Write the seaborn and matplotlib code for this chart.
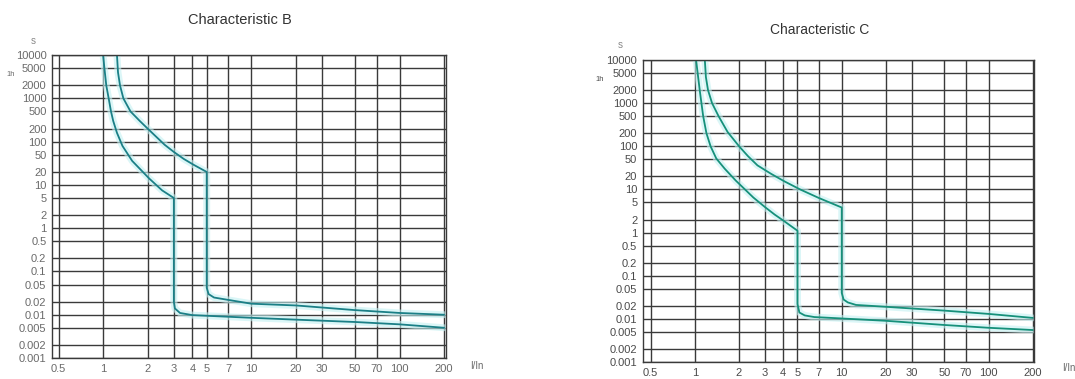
import matplotlib
matplotlib.use("Agg")
import matplotlib.pyplot as plt
import seaborn as sns

sns.set_style("white")
plt.rcParams['font.family'] = ['Liberation Sans', 'DejaVu Sans']

# grid / tick values (multiples of rated current, seconds)
x_ticks = [0.5, 1, 2, 3, 4, 5, 7, 10, 20, 30, 50, 70, 100, 200]
x_labels = ['0.5', '1', '2', '3', '4', '5', '7', '10', '20', '30', '50', '70', '100', '200']
y_ticks = [10000, 5000, 2000, 1000, 500, 200, 100, 50, 20, 10, 5, 2, 1,
           0.5, 0.2, 0.1, 0.05, 0.02, 0.01, 0.005, 0.002, 0.001]
y_labels = ['10000', '5000', '2000', '1000', '500', '200', '100', '50', '20', '10', '5', '2', '1',
            '0.5', '0.2', '0.1', '0.05', '0.02', '0.01', '0.005', '0.002', '0.001']

# Characteristic B
b_low_x = [1.0, 1.02, 1.05, 1.09, 1.13, 1.17, 1.24, 1.35, 1.57, 2.05, 2.5, 3.0,
           3.0, 3.05, 3.3, 4.0, 10, 20, 50, 100, 200]
b_low_y = [10000, 5000, 2000, 1000, 500, 300, 160, 80, 36, 14, 7.5, 5,
           0.02, 0.014, 0.011, 0.0098, 0.0085, 0.0077, 0.0068, 0.006, 0.005]
b_up_x = [1.24, 1.26, 1.3, 1.37, 1.53, 1.77, 2.0, 2.24, 2.6, 3.0, 3.5, 4.1, 5.0,
          5.0, 5.15, 5.6, 7, 10, 20, 50, 100, 200]
b_up_y = [10000, 4000, 2000, 1000, 500, 300, 200, 138, 85, 58, 40, 29, 20,
          0.042, 0.03, 0.025, 0.022, 0.018, 0.0164, 0.0128, 0.011, 0.01]

# Characteristic C
c_low_x = [1.02, 1.08, 1.14, 1.2, 1.28, 1.4, 1.6, 1.9, 2.5, 3.0, 3.5, 4.0, 5.0,
           5.0, 5.15, 5.6, 6.5, 10, 20, 50, 100, 200]
c_low_y = [10000, 2000, 500, 200, 100, 52, 30, 16, 6.5, 3.9, 2.6, 1.9, 1.1,
           0.022, 0.014, 0.012, 0.011, 0.0102, 0.009, 0.0072, 0.0062, 0.0055]
c_up_x = [1.17, 1.19, 1.23, 1.31, 1.45, 1.67, 2.0, 2.3, 2.67, 3.3, 4.05, 5.2, 7, 10,
          10, 10.3, 11, 12.5, 20, 50, 100, 200]
c_up_y = [10000, 4000, 2000, 1000, 500, 215, 100, 59, 36, 23, 15.5, 10, 6.3, 3.8,
          0.04, 0.028, 0.024, 0.021, 0.019, 0.0155, 0.013, 0.0105]

fig = plt.figure(figsize=(10.75, 3.79), dpi=100)
ax_b = fig.add_axes([0.0484, 0.0554, 0.3665, 0.799])
ax_c = fig.add_axes([0.598, 0.0449, 0.3637, 0.797])


def draw_panel(ax, curves, xlim, line_col, lab_col):
    ax.set_xscale('log')
    ax.set_yscale('log')
    for xs, ys in curves:
        sns.lineplot(x=xs, y=ys, ax=ax, sort=False, estimator=None,
                     color='#c4f1f2', lw=5, alpha=0.6)
        sns.lineplot(x=xs, y=ys, ax=ax, sort=False, estimator=None,
                     color=line_col, lw=1.3)
    for v in x_ticks:
        ax.axvline(v, color='#3a3a3a', lw=1.0, zorder=0)
    for v in y_ticks:
        ax.axhline(v, color='#3a3a3a', lw=1.0, zorder=0)
    ax.set_xlim(*xlim)
    ax.set_ylim(0.001, 10000)
    ax.set_xticks(x_ticks)
    ax.set_xticklabels(x_labels)
    ax.set_yticks(y_ticks)
    ax.set_yticklabels(y_labels)
    ax.minorticks_off()
    ax.tick_params(axis='both', length=2, pad=2, labelsize=8, colors=lab_col)
    for s in ax.spines.values():
        s.set_color('#3a3a3a')
        s.set_linewidth(1.0)


draw_panel(ax_b, [(b_low_x, b_low_y), (b_up_x, b_up_y)], (0.452, 206), '#1b7f86', '#6a6a6a')
draw_panel(ax_c, [(c_low_x, c_low_y), (c_up_x, c_up_y)], (0.443, 203), '#16907a', '#4a4a4a')

fig.text(0.223, 0.947, 'Characteristic B', ha='center', va='center', fontsize=10.5, color='#333333')
fig.text(0.762, 0.921, 'Characteristic C', ha='center', va='center', fontsize=10, color='#333333')

# unit labels
fig.text(0.031, 0.885, 's', fontsize=7, color='#888888', ha='center')
fig.text(0.577, 0.873, 's', fontsize=7, color='#888888', ha='center')
fig.text(0.437, 0.026, 'I/In', fontsize=7, color='#6a6a6a')
fig.text(0.988, 0.022, 'I/In', fontsize=7, color='#6a6a6a')
ax_b.text(-0.095, 3600, '1h', transform=ax_b.get_yaxis_transform(), fontsize=5.5,
          color='#6a6a6a', ha='right', va='center')
ax_c.text(-0.1, 3600, '1h', transform=ax_c.get_yaxis_transform(), fontsize=5.5,
          color='#4a4a4a', ha='right', va='center')

fig.savefig('out.png', dpi=100)
